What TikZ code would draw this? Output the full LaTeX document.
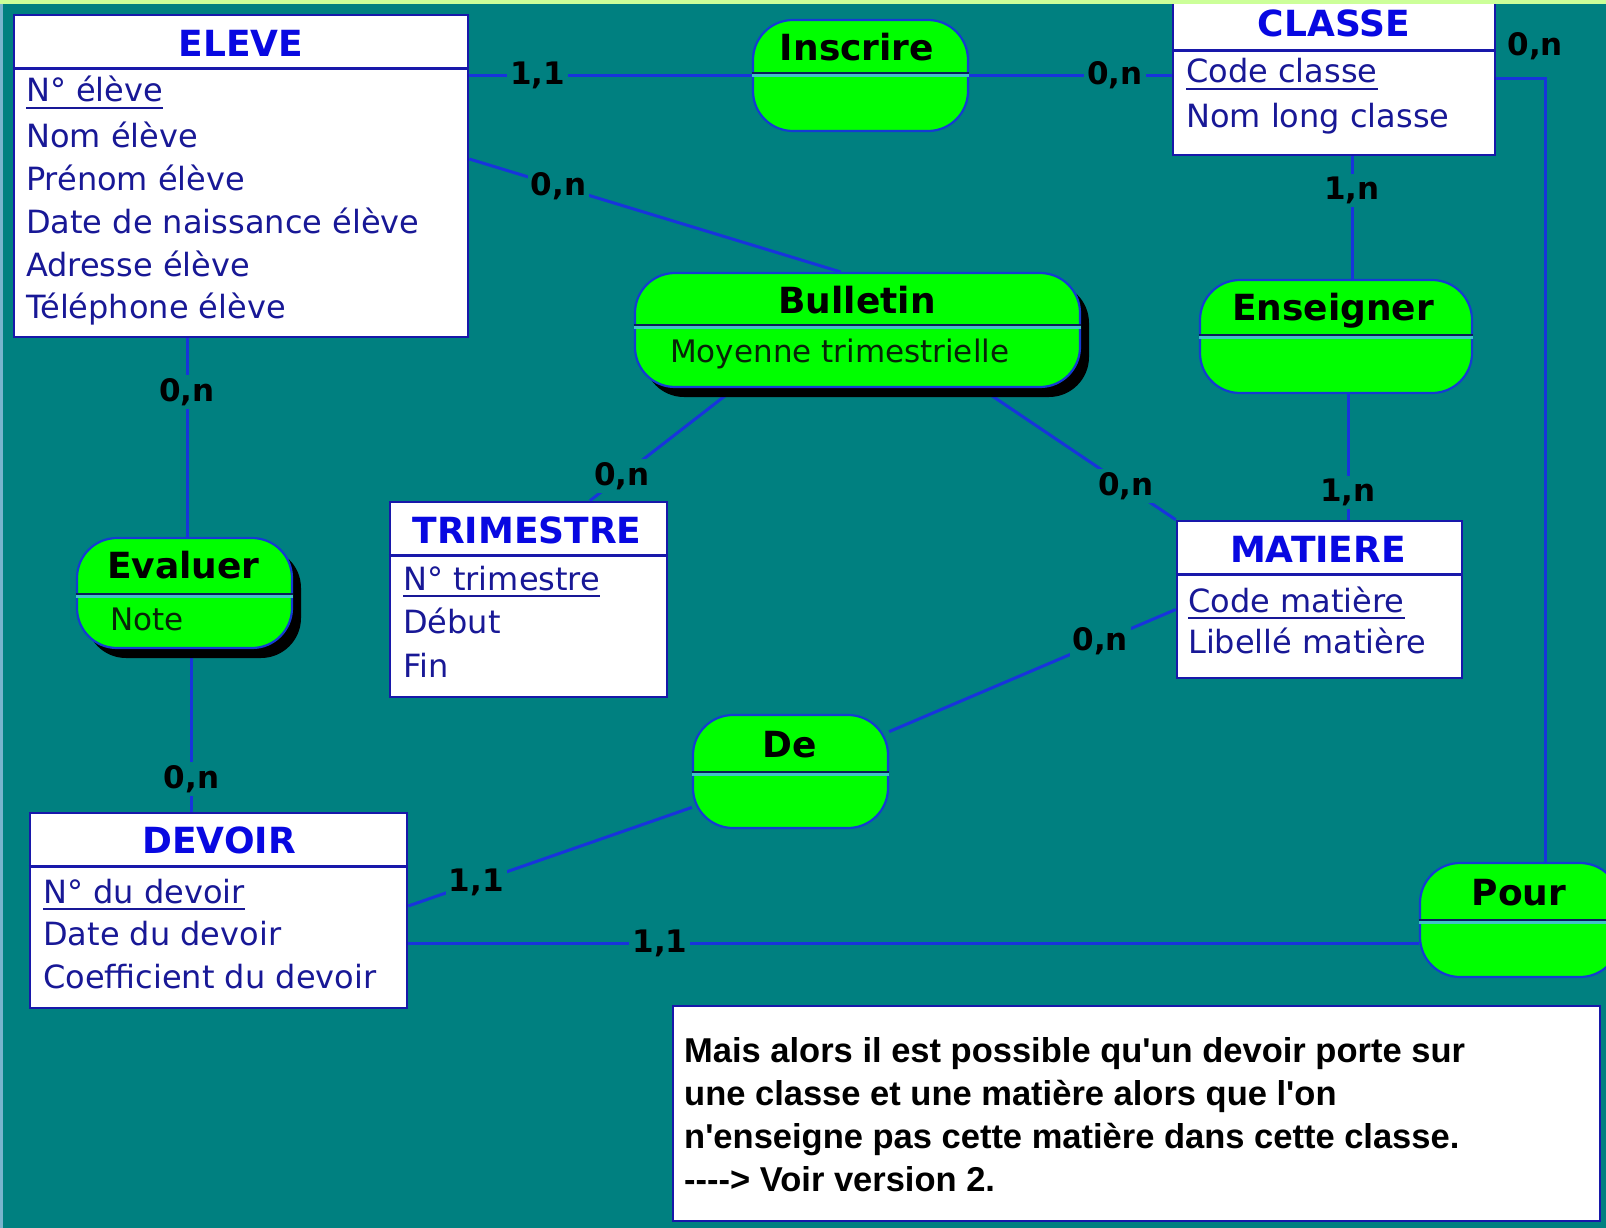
\documentclass[tikz,border=0pt]{standalone}
\usepackage{fontspec}
\usetikzlibrary{calc,shadows,backgrounds}
\newfontfamily\dejavu{DejaVu Sans}
\newfontfamily\libsans{Liberation Sans}

\definecolor{bgteal}{RGB}{0,128,128}
\definecolor{topgreen}{RGB}{204,255,153}
\definecolor{edgeblue}{RGB}{120,180,205}
\definecolor{relgreen}{RGB}{0,255,0}
\definecolor{entline}{RGB}{24,24,170}
\definecolor{linkblue}{RGB}{24,52,220}
\definecolor{titleblue}{RGB}{8,8,225}
\definecolor{attrblue}{RGB}{24,24,150}
\definecolor{reltext}{RGB}{8,36,8}
\definecolor{sepcyan}{RGB}{64,196,200}
\definecolor{sepdark}{RGB}{10,30,90}
\definecolor{reledge}{RGB}{20,60,210}

\newcommand\entTitleFont{\dejavu\bfseries\fontsize{36}{40}\selectfont}
\newcommand\entAttrFont{\dejavu\fontsize{32}{38}\selectfont}
\newcommand\relAttrFont{\dejavu\fontsize{31}{36}\selectfont}
\newcommand\cardFont{\dejavu\bfseries\fontsize{31}{34}\selectfont}
\newcommand\noteFont{\libsans\bfseries\fontsize{34.5}{40}\selectfont}

\tikzset{
  entity/.style={draw=entline, fill=white, line width=2.6pt, inner sep=0pt},
  relation/.style={draw=reledge, fill=relgreen, line width=2.2pt, rounded corners=40pt, inner sep=0pt},
  relshadow/.style={drop shadow={shadow xshift=9pt, shadow yshift=-10pt, fill=black, opacity=1}},
  entsep/.style={draw=entline, line width=2.6pt},
  relsepdark/.style={draw=sepdark, line width=2pt},
  relseplight/.style={draw=sepcyan, line width=3pt},
  enttitle/.style={font=\entTitleFont, text=titleblue, anchor=base, inner sep=0pt},
  entattr/.style={font=\entAttrFont, text=attrblue, anchor=base west, inner sep=0pt},
  reltitle/.style={font=\entTitleFont, text=black, anchor=base, inner sep=0pt},
  relattr/.style={font=\relAttrFont, text=reltext, anchor=base west, inner sep=0pt},
  link/.style={draw=linkblue, line width=3pt},
  card/.style={font=\cardFont, text=black, fill=bgteal, inner sep=3pt},
  idline/.style={draw=attrblue, line width=2pt},
  notebox/.style={draw=entline, fill=white, line width=2.6pt, inner sep=0pt},
  notetext/.style={font=\noteFont, text=black, anchor=base west, inner sep=0pt},
}

\begin{document}
\begin{tikzpicture}[x=1pt,y=-1pt]
\useasboundingbox (0,0) rectangle (1606,1228);
\begin{scope}
\clip (0,0) rectangle (1606,1228);

% ---------- entities ----------
\node[entity, minimum width=454pt, minimum height=322pt] (eleve) at (241,176) {};
\node[entity, minimum width=322pt, minimum height=153pt] (classe) at (1334,78.5) {};
\node[entity, minimum width=277pt, minimum height=195pt] (trimestre) at (528.5,599.5) {};
\node[entity, minimum width=285pt, minimum height=157pt] (matiere) at (1319.5,599.5) {};
\node[entity, minimum width=377pt, minimum height=195pt] (devoir) at (218.5,910.5) {};

\draw[entsep] ([yshift=-55pt]eleve.north west) -- ([yshift=-55pt]eleve.north east);
\draw[entsep] ([yshift=-50pt]classe.north west) -- ([yshift=-50pt]classe.north east);
\draw[entsep] ([yshift=-55pt]trimestre.north west) -- ([yshift=-55pt]trimestre.north east);
\draw[entsep] ([yshift=-55pt]matiere.north west) -- ([yshift=-55pt]matiere.north east);
\draw[entsep] ([yshift=-55pt]devoir.north west) -- ([yshift=-55pt]devoir.north east);

% ELEVE
\node[enttitle] (eleveT) at (241,57) {ELEVE};
\node[entattr] (eleveId) at (26,102) {N° élève};
\node[entattr] (eleveA2) at (26,147) {Nom élève};
\node[entattr] (eleveA3) at (26,190) {Prénom élève};
\node[entattr] (eleveA4) at (26,233) {Date de naissance élève};
\node[entattr] (eleveA5) at (26,276) {Adresse élève};
\node[entattr] (eleveA6) at (26,318) {Téléphone élève};

% CLASSE
\node[enttitle] (classeT) at (1334,37) {CLASSE};
\node[entattr] (classeId) at (1186,83) {Code classe};
\node[entattr] (classeA2) at (1186,128) {Nom long classe};

% TRIMESTRE
\node[enttitle] (trimestreT) at (527,543) {TRIMESTRE};
\node[entattr] (trimestreId) at (403,590) {N° trimestre};
\node[entattr] (trimestreA2) at (403,633) {Début};
\node[entattr] (trimestreA3) at (403,677) {Fin};

% MATIERE
\node[enttitle] (matiereT) at (1318,562) {MATIERE};
\node[entattr] (matiereId) at (1188,612) {Code matière};
\node[entattr] (matiereA2) at (1188,653) {Libellé matière};

% DEVOIR
\node[enttitle] (devoirT) at (219,853) {DEVOIR};
\node[entattr] (devoirId) at (43,903) {N° du devoir};
\node[entattr] (devoirA2) at (43,945) {Date du devoir};
\node[entattr] (devoirA3) at (43,988) {Coefficient du devoir};

% identifiers
\foreach \k in {eleveId,classeId,trimestreId,matiereId,devoirId}
  \draw[idline] ([yshift=-6pt]\k.base west) -- ([yshift=-6pt]\k.base east);

% ---------- relationships ----------
\node[relation, minimum width=215pt, minimum height=111pt] (inscrire) at (860.5,75.5) {};
\node[relation, relshadow, minimum width=445pt, minimum height=114pt] (bulletin) at (857.5,330) {};
\node[relation, minimum width=272pt, minimum height=113pt] (enseigner) at (1336,336.5) {};
\node[relation, relshadow, minimum width=215pt, minimum height=110pt] (evaluer) at (184.5,593) {};
\node[relation, minimum width=195pt, minimum height=113pt] (de) at (790.5,771.5) {};
\node[relation, minimum width=200pt, minimum height=114pt] (pour) at (1520,920) {};

\foreach \r/\s in {inscrire/2.5,bulletin/5,enseigner/1.5,evaluer/-1,de/-0.5,pour/0}{
  \draw[relseplight] ([yshift=\s pt-2.6pt]\r.west) -- ([yshift=\s pt-2.6pt]\r.east);
  \draw[relsepdark] ([yshift=\s pt]\r.west) -- ([yshift=\s pt]\r.east);
}

\node[reltitle] (inscrireT) at (857,61) {Inscrire};
\node[reltitle] (bulletinT) at (857,313) {Bulletin};
\node[relattr] (bulletinA) at (670,362) {Moyenne trimestrielle};
\node[reltitle] (enseignerT) at (1333,320) {Enseigner};
\node[reltitle, anchor=base west] (evaluerT) at (107,578) {Evaluer};
\node[relattr] (evaluerA) at (110,630) {Note};
\node[reltitle] (deT) at (790,757) {De};
\node[reltitle] (pourT) at (1519,905) {Pour};

% ---------- note ----------
\node[notebox, minimum width=927pt, minimum height=215pt] (note) at (1136.5,1113.5) {};
\node[notetext] (note1) at (684,1062) {Mais alors il est possible qu'un devoir porte sur};
\node[notetext] (note2) at (684,1105) {une classe et une matière alors que l'on};
\node[notetext] (note3) at (684,1148) {n'enseigne pas cette matière dans cette classe.};
\node[notetext] (note4) at (684,1191) {---{}-> Voir version 2.};

% top band
\fill[topgreen] (0,0) rectangle (1606,4);
\end{scope}

% ---------- background and links ----------
\begin{pgfonlayer}{background}
\fill[bgteal] (0,0) rectangle (1606,1228);
\fill[edgeblue] (0,0) rectangle (3,1228);

\draw[link] (inscrire.west -| eleve.east) -- (inscrire.west)
  node[card, pos=0.242] {1,1};
\draw[link] (inscrire.east) -- (inscrire.east -| classe.west)
  node[card, pos=0.72] {0,n};
\draw[link] (classe.east) -| ([xshift=25pt]pour.north);
\node[card, fill=none] (classePourCard) at ([xshift=39pt,yshift=32pt]classe.east) {0,n};
\draw[link] ([xshift=18pt]classe.south) -- ([xshift=18pt]classe.south |- enseigner.north)
  node[card, pos=0.28] {1,n};
\draw[link] ([xshift=12pt]enseigner.south) -- ([xshift=12pt]enseigner.south |- matiere.north)
  node[card, pos=0.78] {1,n};
\draw[link] ([yshift=17pt]eleve.east) -- ([xshift=-17pt]bulletin.north)
  node[card, pos=0.24] {0,n};
\draw[link] ([xshift=-122.5pt]bulletin.south) -- ([xshift=61.5pt]trimestre.north)
  node[card, pos=0.78] {0,n};
\draw[link] ([xshift=123pt]bulletin.south) -- (matiere.north west)
  node[card, pos=0.745] {0,n};
\draw[link] ([xshift=2.5pt]evaluer.north |- eleve.south) -- ([xshift=2.5pt]evaluer.north)
  node[card, pos=0.27] {0,n};
\draw[link] ([xshift=7pt]evaluer.south) -- ([xshift=7pt]evaluer.south |- devoir.north)
  node[card, pos=0.8] {0,n};
\draw[link] ([yshift=4.5pt]devoir.east) -- (de.200)
  node[card, pos=0.24] {1,1};
\draw[link] (de.22) -- ([yshift=-10pt]matiere.west)
  node[card, pos=0.737] {0,n};
\draw[link] ([yshift=-33pt]devoir.east) -- ([yshift=-33pt]devoir.east -| pour.west)
  node[card, pos=0.249] {1,1};
\end{pgfonlayer}
\end{tikzpicture}
\end{document}
